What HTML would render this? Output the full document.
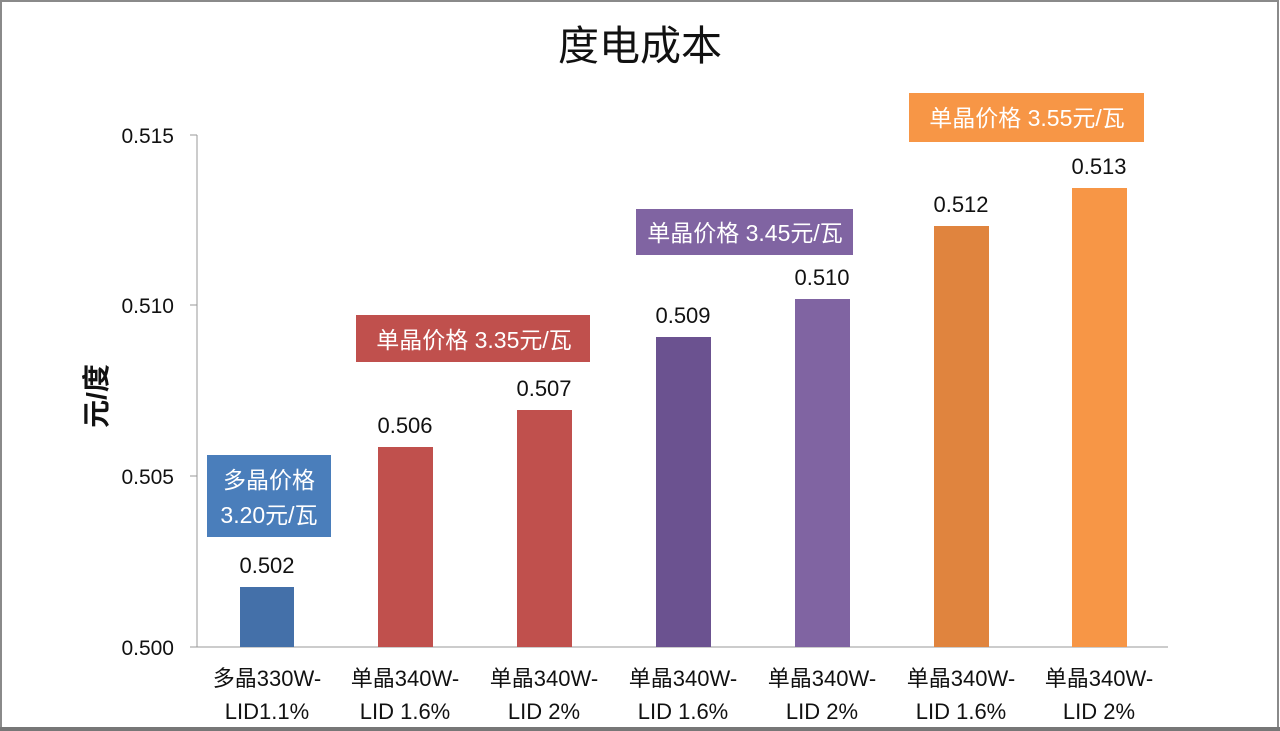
<!DOCTYPE html>
<html><head><meta charset="utf-8"><style>
html,body{margin:0;padding:0;background:#fff}
svg{display:block}
text{font-family:"Liberation Sans","Noto Sans CJK SC",sans-serif}
</style></head><body>
<svg width="1280" height="731" viewBox="0 0 1280 731" xmlns="http://www.w3.org/2000/svg">
<rect x="0" y="0" width="1280" height="731" fill="#fff"/>
<rect x="1" y="1" width="1277" height="727" fill="none" stroke="#8a8a8a" stroke-width="2"/>
<rect x="0" y="727" width="1280" height="4" fill="#777"/>
<text x="640" y="60" font-size="41" text-anchor="middle" fill="#111">度电成本</text>
<line x1="197" y1="135" x2="197" y2="647" stroke="#999" stroke-width="1"/>
<line x1="190" y1="647" x2="1168" y2="647" stroke="#999" stroke-width="1"/>
<g stroke="#999"><line x1="190" y1="135" x2="197" y2="135"/><line x1="190" y1="305" x2="197" y2="305"/><line x1="190" y1="476" x2="197" y2="476"/></g>
<g font-size="21" fill="#111" text-anchor="end">
<text x="174" y="143">0.515</text><text x="174" y="313">0.510</text><text x="174" y="484">0.505</text><text x="174" y="655">0.500</text>
</g>
<text transform="translate(106,396) rotate(-90)" font-size="28" font-weight="bold" text-anchor="middle" fill="#111">元/度</text>
<rect x="240" y="587" width="54" height="60" fill="#4470a9"/>
<rect x="378" y="447" width="55" height="200" fill="#c0504d"/>
<rect x="517" y="410" width="55" height="237" fill="#c0504d"/>
<rect x="656" y="337" width="55" height="310" fill="#6b5290"/>
<rect x="795" y="299" width="55" height="348" fill="#8064a2"/>
<rect x="934" y="226" width="55" height="421" fill="#e0843e"/>
<rect x="1072" y="188" width="55" height="459" fill="#f79646"/>
<g font-size="22" fill="#111" text-anchor="middle">
<text x="267" y="573">0.502</text><text x="405" y="433">0.506</text><text x="544" y="396">0.507</text>
<text x="683" y="323">0.509</text><text x="822" y="285">0.510</text><text x="961" y="212">0.512</text><text x="1099" y="174">0.513</text>
</g>
<rect x="207" y="455" width="124" height="82" fill="#4a7ebb"/>
<text x="269" y="488" font-size="23" fill="#fff" text-anchor="middle">多晶价格</text>
<text x="269" y="523" font-size="23" fill="#fff" text-anchor="middle">3.20元/瓦</text>
<rect x="356" y="315" width="234" height="47" fill="#c0504d"/>
<text x="474" y="348" font-size="23" fill="#fff" text-anchor="middle">单晶价格 3.35元/瓦</text>
<rect x="636" y="209" width="217" height="46" fill="#8064a2"/>
<text x="745" y="241" font-size="23" fill="#fff" text-anchor="middle">单晶价格 3.45元/瓦</text>
<rect x="909" y="93" width="235" height="49" fill="#f79646"/>
<text x="1027" y="126" font-size="23" fill="#fff" text-anchor="middle">单晶价格 3.55元/瓦</text>
<g font-size="22" fill="#111" text-anchor="middle">
<text x="267" y="686">多晶330W-</text><text x="267" y="719">LID1.1%</text>
<text x="405" y="686">单晶340W-</text><text x="405" y="719">LID 1.6%</text>
<text x="544" y="686">单晶340W-</text><text x="544" y="719">LID 2%</text>
<text x="683" y="686">单晶340W-</text><text x="683" y="719">LID 1.6%</text>
<text x="822" y="686">单晶340W-</text><text x="822" y="719">LID 2%</text>
<text x="961" y="686">单晶340W-</text><text x="961" y="719">LID 1.6%</text>
<text x="1099" y="686">单晶340W-</text><text x="1099" y="719">LID 2%</text>
</g>
</svg>
</body></html>
